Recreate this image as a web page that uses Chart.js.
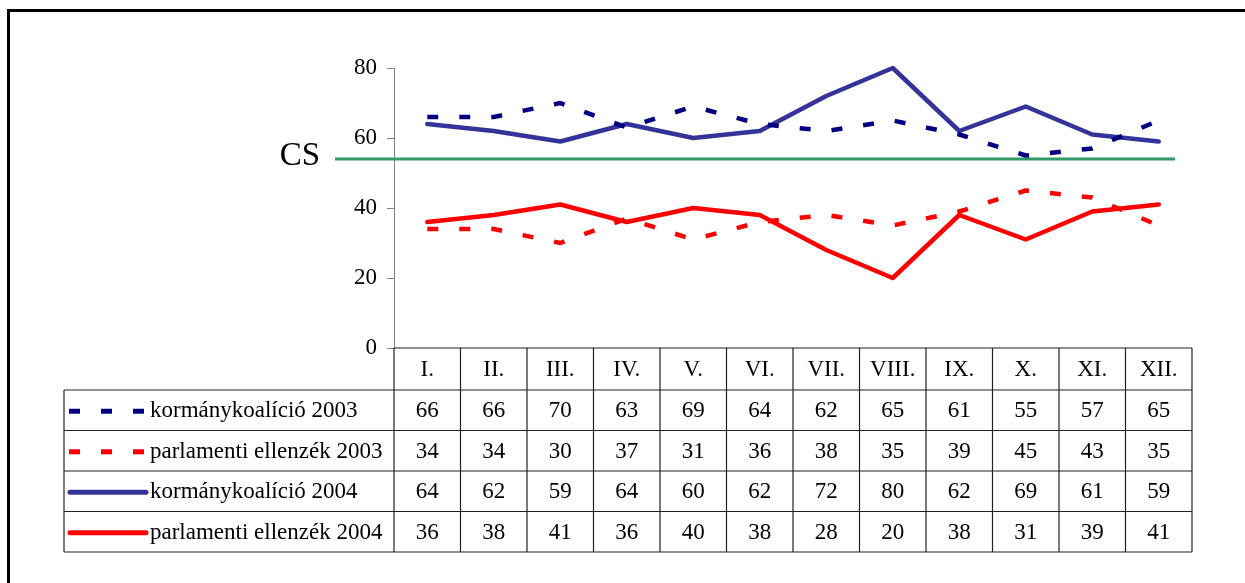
<!DOCTYPE html>
<html>
<head>
<meta charset="utf-8">
<script src="https://cdn.jsdelivr.net/npm/chart.js@4/dist/chart.umd.min.js"></script>
<style>
html,body{margin:0;padding:0;background:#fff;}
#wrap{position:relative;width:1245px;height:583px;overflow:hidden;}
#frame{position:absolute;left:7px;top:9px;width:1260px;height:600px;border:3px solid #000;box-sizing:border-box;}
canvas{position:absolute;left:0;top:0;}
</style>
</head>
<body>
<div id="wrap"><div id="frame"></div><canvas id="c" width="1245" height="583"></canvas></div>
<script>
const categories = ['I.','II.','III.','IV.','V.','VI.','VII.','VIII.','IX.','X.','XI.','XII.'];
const seriesNames = ['kormánykoalíció 2003','parlamenti ellenzék 2003','kormánykoalíció 2004','parlamenti ellenzék 2004'];
const kormany2003 = [66,66,70,63,69,64,62,65,61,55,57,65];
const ellenzek2003 = [34,34,30,37,31,36,38,35,39,45,43,35];
const kormany2004 = [64,62,59,64,60,62,72,80,62,69,61,59];
const ellenzek2004 = [36,38,41,36,40,38,28,20,38,31,39,41];
const yTicks = [0,20,40,60,80];
const csValue = 54;
const csLabel = 'CS';

const FONT = '"Liberation Serif", "Times New Roman", serif';

const tablePlugin = {
  id: 'tablePlugin',
  beforeDatasetsDraw(chart) {
    const ctx = chart.ctx, y = chart.scales.y, a = chart.chartArea;
    const py = y.getPixelForValue(csValue);
    ctx.save();
    ctx.strokeStyle = '#339966';
    ctx.lineWidth = 3;
    ctx.beginPath();
    ctx.moveTo(a.left - 59, py);
    ctx.lineTo(a.right - 17, py);
    ctx.stroke();
    ctx.fillStyle = '#000';
    ctx.font = '33px ' + FONT;
    ctx.textAlign = 'right';
    ctx.textBaseline = 'middle';
    ctx.fillText(csLabel, a.left - 74, py - 3);
    ctx.restore();
  },
  afterDraw(chart) {
    const ctx = chart.ctx, a = chart.chartArea;
    const n = categories.length;
    const colW = (a.right - a.left) / n;
    const top = a.bottom;
    const headH = 42;
    const rowH = 40.5;
    const legLeft = 64;
    const rows = chart.data.datasets;
    const bottom = top + headH + rowH * rows.length;
    ctx.save();
    ctx.strokeStyle = '#222';
    ctx.lineWidth = 1.2;
    ctx.beginPath();
    ctx.moveTo(a.left, top); ctx.lineTo(a.right, top);
    for (let i = 0; i <= n; i++) {
      const x = a.left + i * colW;
      ctx.moveTo(x, top); ctx.lineTo(x, bottom);
    }
    for (let r = 0; r <= rows.length; r++) {
      const yy = top + headH + r * rowH;
      ctx.moveTo(legLeft, yy); ctx.lineTo(a.right, yy);
    }
    ctx.moveTo(legLeft, top + headH); ctx.lineTo(legLeft, bottom);
    ctx.stroke();

    ctx.fillStyle = '#000';
    ctx.font = '23px ' + FONT;
    ctx.textAlign = 'center';
    ctx.textBaseline = 'middle';
    const xs = chart.scales.x;
    categories.forEach((c, i) => {
      ctx.fillText(c, xs.getPixelForValue(i), top + headH / 2 + 1);
    });
    rows.forEach((ds, r) => {
      const cy = top + headH + r * rowH + rowH / 2;
      ds.data.forEach((v, i) => {
        ctx.fillText(String(v), xs.getPixelForValue(i), cy + 1);
      });
      ctx.save();
      ctx.strokeStyle = ds.borderColor;
      ctx.lineWidth = 5;
      ctx.setLineDash(ds.borderDash || []);
      ctx.lineCap = ds.borderDash ? 'butt' : 'round';
      ctx.beginPath();
      ctx.moveTo(ds.borderDash ? 69 : 70, cy + 1);
      ctx.lineTo(146, cy + 1);
      ctx.stroke();
      ctx.restore();
      ctx.textAlign = 'left';
      ctx.fillText(ds.label, 150, cy + 1);
      ctx.textAlign = 'center';
    });
    ctx.restore();
  }
};

const dsStyle = (label, data, color, dashed) => ({
  label, data,
  borderColor: color,
  backgroundColor: color,
  borderWidth: 4.5,
  borderDash: dashed ? [11, 21] : undefined,
  borderCapStyle: dashed ? 'butt' : 'round',
  borderJoinStyle: 'round',
  pointRadius: 0,
  tension: 0,
  fill: false,
  clip: false
});

new Chart(document.getElementById('c'), {
  type: 'line',
  data: {
    labels: categories,
    datasets: [
      dsStyle(seriesNames[0], kormany2003, '#000080', true),
      dsStyle(seriesNames[1], ellenzek2003, '#FF0000', true),
      dsStyle(seriesNames[2], kormany2004, '#333399', false),
      dsStyle(seriesNames[3], ellenzek2004, '#FF0000', false)
    ]
  },
  options: {
    responsive: false,
    animation: false,
    events: [],
    layout: { padding: { left: 0, right: 53, top: 68, bottom: 235 } },
    plugins: { legend: { display: false }, tooltip: { enabled: false } },
    scales: {
      x: {
        type: 'category',
        offset: true,
        display: false
      },
      y: {
        min: 0, max: 80,
        afterFit(scale) { scale.width = 394; },
        afterBuildTicks(scale) { scale.ticks = yTicks.map(v => ({ value: v })); },
        ticks: { color: '#000', font: { family: FONT, size: 23 }, padding: 10 },
        grid: { drawOnChartArea: false, drawTicks: true, tickLength: 7, color: '#808080', lineWidth: 1 },
        border: { display: true, color: '#808080', width: 1 }
      }
    }
  },
  plugins: [tablePlugin]
});
</script>
</body>
</html>
